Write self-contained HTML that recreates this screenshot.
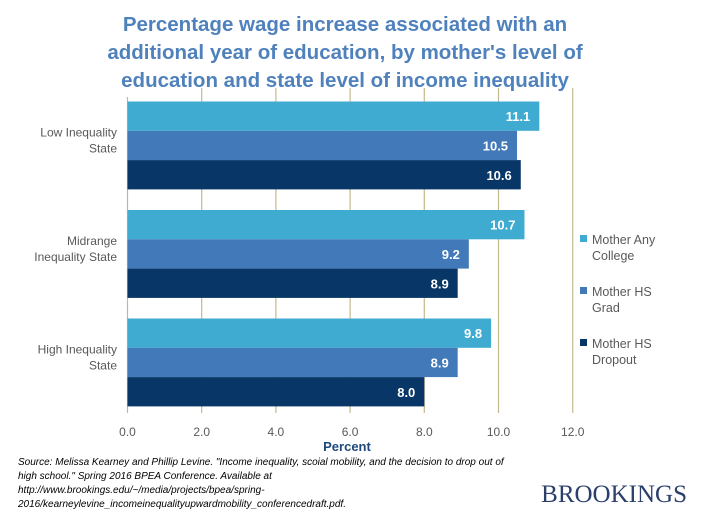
<!DOCTYPE html>
<html><head><meta charset="utf-8"><style>
body{margin:0;width:714px;height:520px;background:#fff;overflow:hidden;font-family:"Liberation Sans",sans-serif}
svg{position:absolute;left:0;top:0}
</style></head><body>
<svg width="714" height="520">
<g fill="#4F81BD" font-weight="bold" font-size="20.5" text-anchor="middle">
<text x="345" y="31">Percentage wage increase associated with an</text>
<text x="345" y="59">additional year of education, by mother's level of</text>
<text x="345" y="87">education and state level of income inequality</text>
</g>
<g id="grid"></g><g id="bars"></g><g id="labels"></g>
<text x="347" y="451" text-anchor="middle" font-weight="bold" font-size="13" fill="#1F497D">Percent</text>
<g font-size="12.5" fill="#595959" id="legend"></g>
<g font-size="10" font-style="italic" fill="#000">
<text x="18" y="465">Source: Melissa Kearney and  Phillip Levine. "Income inequality, scoial mobility, and the decision to drop out of</text>
<text x="18" y="479">high school." Spring 2016 BPEA Conference. Available at</text>
<text x="18" y="493">http://www.brookings.edu/~/media/projects/bpea/spring-</text>
<text x="18" y="507">2016/kearneylevine_incomeinequalityupwardmobility_conferencedraft.pdf.</text>
</g>
<text x="687" y="502" text-anchor="end" font-family="Liberation Serif,serif" font-size="25" fill="#2B3F6B">BROOKINGS</text>
</svg>
<script>
const categories=[["Low Inequality","State"],["Midrange","Inequality State"],["High Inequality","State"]];
const seriesNames=[["Mother Any","College"],["Mother HS","Grad"],["Mother HS","Dropout"]];
const anyCollege=[11.1,10.7,9.8];
const hsGrad=[10.5,9.2,8.9];
const hsDropout=[10.6,8.9,8.0];
const ticks=[0,2,4,6,8,10,12];
const tickLabels=["0.0","2.0","4.0","6.0","8.0","10.0","12.0"];
const series=[anyCollege,hsGrad,hsDropout];
const colors=["#3FABD1","#4279B9","#073667"];
const NS="http://www.w3.org/2000/svg";
const x0=127.5,pxu=37.1,top0=101.5,gp=108.5,bh=29.3;
const xs=v=>x0+v*pxu;
function mk(t,a,p){const e=document.createElementNS(NS,t);for(const k in a)e.setAttribute(k,a[k]);p.appendChild(e);return e;}
const grid=document.getElementById('grid'),bars=document.getElementById('bars'),labels=document.getElementById('labels'),legend=document.getElementById('legend');
ticks.forEach((t,i)=>{
 const l=mk('line',{x1:xs(t),x2:xs(t),y1:i==0?97:88,y2:413,stroke:'#C4B98E','stroke-width':1.2},grid);
 
 
 const tx=mk('text',{x:xs(t),y:436,'text-anchor':'middle','font-size':12,fill:'#595959'},grid);
 tx.textContent=tickLabels[i];
 
 
});
categories.forEach((c,g)=>{
 const gy=top0+g*gp;
 const cl=mk('text',{x:117,y:gy+35,'text-anchor':'end','font-size':12,fill:'#595959'},labels);
 
 
 c.forEach((s,j)=>{const ts=mk('tspan',{x:117,dy:j?16:0},cl);ts.textContent=s;});
 series.forEach((arr,s)=>{
  const y=gy+s*bh, v=arr[g];
  const r=mk('rect',{x:x0,y:y,width:xs(v)-x0,height:bh,fill:colors[s]},bars);
  
  
  const t=mk('text',{x:xs(v)-9,y:y+bh/2+5,'text-anchor':'end','font-size':13,'font-weight':'bold',fill:'#fff'},labels);
  t.textContent=v.toFixed(1);
  
  
 });
});
seriesNames.forEach((n,i)=>{
 const y=244+i*52;
 const sq=mk('rect',{x:580,y:y-9,width:7,height:7,fill:colors[i]},legend);
 
 
 const t=mk('text',{x:592,y:y},legend);
 
 
 n.forEach((s,j)=>{const ts=mk('tspan',{x:592,dy:j?16:0},t);ts.textContent=s;});
});
</script>
</body></html>
